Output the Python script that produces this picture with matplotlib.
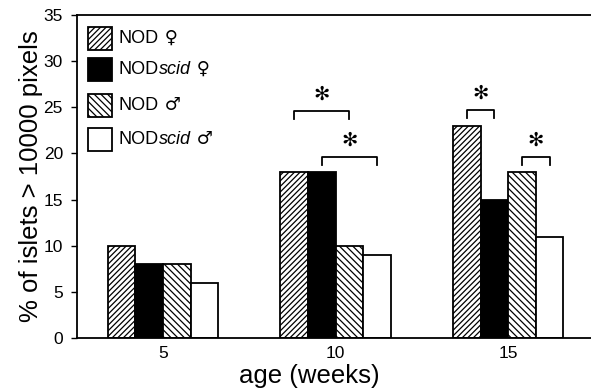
import numpy as np
import matplotlib
matplotlib.use('Agg')
import matplotlib.pyplot as plt
from matplotlib.patches import Rectangle

plt.rcParams['font.family'] = ['Liberation Sans', 'DejaVu Sans']
plt.rcParams['hatch.linewidth'] = 0.9

# data
weeks = [5, 10, 15]
nod_f = [10, 18, 23]
scid_f = [8, 18, 15]
nod_m = [8, 10, 18]
scid_m = [6, 9, 11]

# significance brackets: group, left bar, right bar
sig_group = [1, 1, 2, 2]
sig_left = [0, 1, 0, 2]
sig_right = [2, 3, 1, 3]
sig_level = [24.6, 19.6, 24.7, 19.6]

series = [nod_f, scid_f, nod_m, scid_m]
fills = ['white', 'black', 'white', 'white']
hatches = ['//////', None, '\\\\\\\\\\', None]

fig = plt.figure(figsize=(5.91, 3.90), dpi=100)
ax = fig.add_axes([0.130, 0.133, 0.870, 0.8285])

w = 0.8
x = np.array(weeks, dtype=float)
offsets = (np.arange(4) - 1.5) * w
for vals, fc, h, off in zip(series, fills, hatches, offsets):
    ax.bar(x + off, vals, width=w, facecolor=fc, edgecolor='black',
           hatch=h, linewidth=1.3)

# brackets with stars
leg = 0.9
for g, a, b, lv in zip(sig_group, sig_left, sig_right, sig_level):
    xa = x[g] + offsets[a]
    xb = x[g] + offsets[b]
    ax.plot([xa, xa, xb, xb], [lv - leg, lv, lv, lv - leg], color='black', lw=1.3)
    ax.text((xa + xb) / 2, lv + 1.8, '✻', ha='center', va='center',
            fontsize=14, family='DejaVu Sans')

ax.set_xlim(2.5, 17.4)
ax.set_ylim(0, 35)
ax.set_xticks(weeks)
ax.set_yticks(range(0, 36, 5))
ax.tick_params(axis='x', length=0, labelsize=12.5, pad=6)
ax.tick_params(axis='y', length=4, width=1, labelsize=12.5, direction='out', pad=6)
ax.spines['right'].set_visible(False)
for s in ['left', 'top', 'bottom']:
    ax.spines[s].set_linewidth(1.3)

ax.set_ylabel('% of islets > 10000 pixels', fontsize=18.5)
ax.yaxis.set_label_coords(-0.066, 0.5)
ax.set_xlabel('age (weeks)', fontsize=18.5)
ax.xaxis.set_label_coords(0.453, -0.08)

# legend drawn by hand (mixed roman / italic labels)
tops = [27, 58, 94, 128]
names = [('NOD', '', ' ♀'), ('NOD', 'scid', ' ♀'), ('NOD', '', ' ♂'), ('NOD', 'scid', ' ♂')]
for top, fc, h, (n1, n2, n3) in zip(tops, fills, hatches, names):
    y0 = (338 - top - 23) / 323
    ax.add_patch(Rectangle((11 / 514, y0), 24 / 514, 23 / 323, transform=ax.transAxes,
                           facecolor=fc, edgecolor='black', hatch=h, lw=1.3))
    t = ax.text(42 / 514, y0 + 11.5 / 323, n1, transform=ax.transAxes,
                fontsize=13, va='center', ha='left')
    if n2:
        t = ax.annotate(n2, xy=(1, 0), xycoords=t, va='bottom', ha='left',
                        fontsize=13, style='italic')
    ax.annotate(n3, xy=(1, 0), xycoords=t, va='bottom', ha='left', fontsize=13,
                family='DejaVu Sans')

fig.savefig('out.png', dpi=100)
